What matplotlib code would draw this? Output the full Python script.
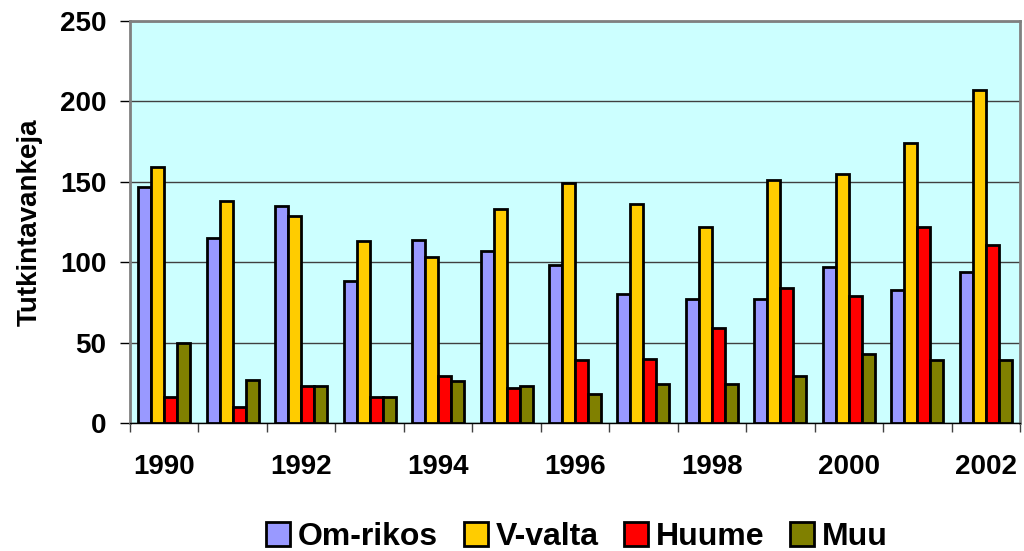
import numpy as np
import matplotlib.pyplot as plt
from matplotlib.patches import Patch

plt.rcParams['font.family'] = ['Liberation Sans', 'DejaVu Sans']
plt.rcParams['font.weight'] = 'bold'

years = [1990, 1991, 1992, 1993, 1994, 1995, 1996, 1997, 1998, 1999, 2000, 2001, 2002]
om_rikos = [147, 115, 135, 88, 114, 107, 98, 80, 77, 77, 97, 83, 94]
v_valta = [159, 138, 129, 113, 103, 133, 149, 136, 122, 151, 155, 174, 207]
huume = [16, 10, 23, 16, 29, 22, 39, 40, 59, 84, 79, 122, 111]
muu = [50, 27, 23, 16, 26, 23, 18, 24, 24, 29, 43, 39, 39]

series = ["Om-rikos", "V-valta", "Huume", "Muu"]
colors = ["#9999FF", "#FFCC00", "#FF0000", "#808000"]

fig = plt.figure(figsize=(10.24, 5.51), dpi=100)
ax = fig.add_axes([130 / 1024, 128 / 551, 890 / 1024, 402 / 551])
ax.set_facecolor("#CCFFFF")

x = np.arange(len(years))
w = 0.19
for i, (vals, c) in enumerate(zip([om_rikos, v_valta, huume, muu], colors)):
    ax.bar(x + (i - 1.5) * w, vals, width=w, color=c, edgecolor="black",
           linewidth=2, zorder=3)

ax.set_xlim(-0.5, len(years) - 0.5)
ax.set_ylim(0, 250)
ax.set_yticks(range(0, 251, 50))
ax.yaxis.grid(True, color="#404040", linewidth=1, zorder=1)

# tick marks between groups, labels under every other year
ax.set_xticks(np.arange(-0.5, len(years), 1))
ax.set_xticklabels([])
ax.set_xticks(x[::2], minor=True)
ax.set_xticklabels([str(y) for y in years[::2]], minor=True)
ax.tick_params(axis="x", which="minor", length=0, pad=22, labelsize=20)
ax.tick_params(axis="x", which="major", length=6.5, width=1, color="#404040")
ax.tick_params(axis="y", length=7, width=1, labelsize=20, pad=10)

for s in ["top", "right", "left"]:
    ax.spines[s].set_color("#808080")
    ax.spines[s].set_linewidth(2)
ax.spines["bottom"].set_color("black")
ax.spines["bottom"].set_linewidth(1)

ax.set_ylabel("Tutkintavankeja", fontsize=20, fontweight="bold", labelpad=12)

handles = [Patch(facecolor=c, edgecolor="black", linewidth=2) for c in colors]
fig.legend(handles, series, loc="center", bbox_to_anchor=(577 / 1024, 14 / 551),
           ncol=4, frameon=False, prop={"size": 23, "weight": "bold"},
           handlelength=0.75, handleheight=0.75, handletextpad=0.25,
           columnspacing=0.8)

fig.savefig("out.png", dpi=100)
